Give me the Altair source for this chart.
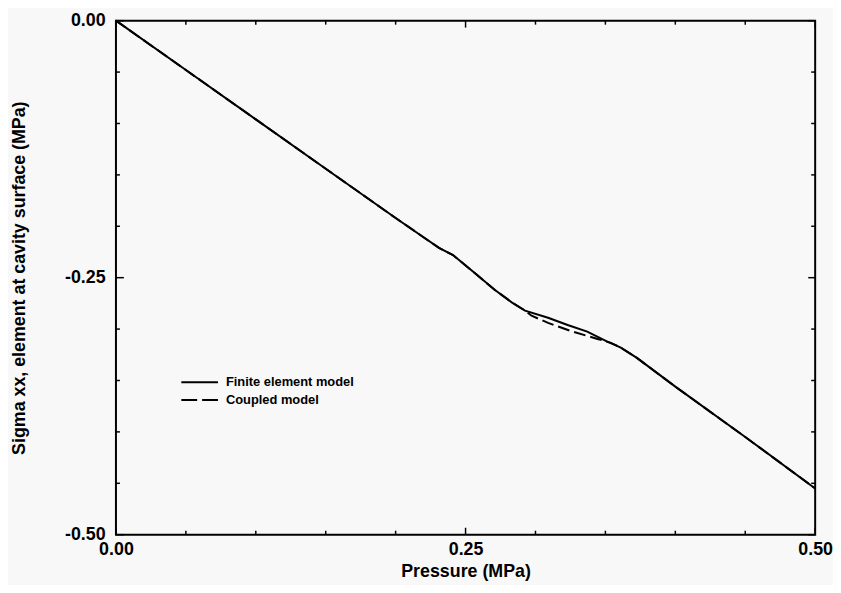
import altair as alt
import pandas as pd

# ---- data ----
series_names = ["Finite element model", "Coupled model"]

pressure_fe = [0.0, 0.05, 0.10, 0.15, 0.20, 0.215, 0.231, 0.241, 0.257, 0.271, 0.283,
               0.2925, 0.309, 0.323, 0.337, 0.351, 0.361, 0.3725, 0.40, 0.45, 0.50]
sigma_fe = [0.0, -0.048, -0.096, -0.144, -0.192, -0.206, -0.221, -0.228, -0.246, -0.262, -0.274,
            -0.282, -0.289, -0.296, -0.3025, -0.312, -0.318, -0.328, -0.356, -0.405, -0.455]

pressure_cp = [0.0, 0.05, 0.10, 0.15, 0.20, 0.215, 0.231, 0.241, 0.257, 0.271, 0.283,
               0.2925, 0.2972, 0.309, 0.3256, 0.3444, 0.3539, 0.361, 0.3725, 0.40, 0.45, 0.50]
sigma_cp = [0.0, -0.048, -0.096, -0.144, -0.192, -0.206, -0.221, -0.228, -0.246, -0.262, -0.274,
            -0.282, -0.287, -0.294, -0.302, -0.3096, -0.3134, -0.318, -0.328, -0.356, -0.405, -0.455]

x_major = [0.0, 0.25, 0.5]
y_major = [0.0, -0.25, -0.5]
x_minor = [0.05, 0.10, 0.15, 0.20, 0.30, 0.35, 0.40, 0.45]
y_minor = [-0.05, -0.10, -0.15, -0.20, -0.30, -0.35, -0.40, -0.45]

W, H = 706, 519
FONT = "Liberation Sans"

fe_df = pd.DataFrame({"p": pressure_fe, "s": sigma_fe, "o": range(len(pressure_fe))})
cp_df = pd.DataFrame({"p": pressure_cp, "s": sigma_cp, "o": range(len(pressure_cp))})

xs = alt.Scale(domain=[0, 0.5], nice=False, zero=False)
ys = alt.Scale(domain=[-0.5, 0], nice=False, zero=False)

label_expr = "replace(format(datum.value, '.2f'), '\u2212', '-')"

x_axis = alt.Axis(values=x_major, labelExpr=label_expr, ticks=False, domain=False, grid=False,
                  labelFont=FONT, labelFontSize=18, labelFontWeight="bold", labelColor="black",
                  labelPadding=6, labelFlush=False, labelOverlap=False,
                  title="Pressure (MPa)", titleFont=FONT, titleFontSize=18, titleFontWeight="bold",
                  titleColor="black", titlePadding=4)
y_axis = alt.Axis(values=y_major, labelExpr=label_expr, ticks=False, domain=False, grid=False,
                  labelFont=FONT, labelFontSize=18, labelFontWeight="bold", labelColor="black",
                  labelPadding=11, labelFlush=False, labelOverlap=False, labelBaseline="middle",
                  title="Sigma xx, element at cavity surface (MPa)", titleFont=FONT,
                  titleFontSize=18, titleFontWeight="bold", titleColor="black",
                  titleX=-97, titleY=H / 2, titleAlign="center", titleBaseline="middle",
                  titleAngle=270)

def X(field):
    return alt.X(field, scale=xs, axis=x_axis)

def Y(field):
    return alt.Y(field, scale=ys, axis=y_axis)

coupled = alt.Chart(cp_df).mark_line(color="black", strokeWidth=2, strokeDash=[12, 5]).encode(
    x=X("p:Q"), y=Y("s:Q"), order="o:Q")
fe = alt.Chart(fe_df).mark_line(color="black", strokeWidth=2).encode(
    x=X("p:Q"), y=Y("s:Q"), order="o:Q")

def xticks(vals, y0, y1):
    return alt.Chart(pd.DataFrame({"p": vals})).mark_rule(color="black", strokeWidth=1.5).encode(
        x=X("p:Q"), y=alt.value(y0), y2=alt.value(y1))

def yticks(vals, x0, x1):
    return alt.Chart(pd.DataFrame({"s": vals})).mark_rule(color="black", strokeWidth=1.5).encode(
        y=Y("s:Q"), x=alt.value(x0), x2=alt.value(x1))

ticks = [
    xticks(x_minor, H, H - 4), xticks(x_major, H, H - 7),
    xticks(x_minor, 0, 4), xticks(x_major, 0, 7),
    yticks(y_minor, 0, 4), yticks(y_major, 0, 8),
    yticks(y_minor, W, W - 4), yticks(y_major, W, W - 7),
]

# ---- legend drawn inside the plot ----
leg_solid = alt.Chart(pd.DataFrame({"n": [series_names[0]]})).mark_rule(
    color="black", strokeWidth=2).encode(x=alt.value(66), x2=alt.value(103), y=alt.value(365))
leg_dash = alt.Chart(pd.DataFrame({"n": [series_names[1]]})).mark_rule(
    color="black", strokeWidth=2, strokeDash=[16, 5]).encode(x=alt.value(66), x2=alt.value(103), y=alt.value(383))
leg_t1 = alt.Chart(pd.DataFrame({"n": [series_names[0]]})).mark_text(
    align="left", baseline="middle", font=FONT, fontSize=13, fontWeight="bold", color="black").encode(
    x=alt.value(111), y=alt.value(365), text="n:N")
leg_t2 = alt.Chart(pd.DataFrame({"n": [series_names[1]]})).mark_text(
    align="left", baseline="middle", font=FONT, fontSize=13, fontWeight="bold", color="black").encode(
    x=alt.value(111), y=alt.value(383), text="n:N")

chart = alt.layer(coupled, fe, *ticks, leg_solid, leg_dash, leg_t1, leg_t2).properties(
    width=W, height=H,
    autosize=alt.AutoSizeParams(type="none"),
    padding={"left": 109, "top": 10, "right": 18, "bottom": 48},
    background="#f8f8f8",
).configure_view(stroke="black", strokeWidth=2)

chart.save("out.html", embed_options={"renderer": "svg", "actions": False})
